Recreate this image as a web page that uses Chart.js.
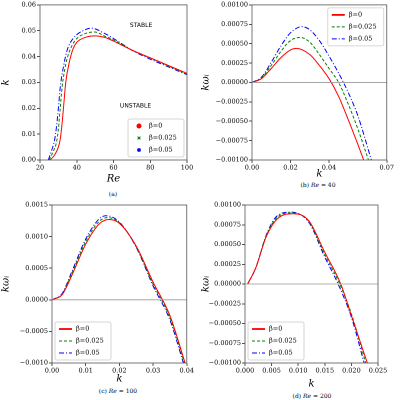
<!DOCTYPE html>
<html>
<head>
<script src="https://cdn.jsdelivr.net/npm/chart.js@4"></script>
<style>
  body { margin: 0; background: #fff; width: 400px; height: 400px; position: relative; font-family: "DejaVu Serif", serif; color: #000; }
  canvas { position: absolute; }
  .cap { position: absolute; font-size: 6px; color: #000; transform: translateX(-50%); white-space: nowrap; }
</style>
</head>
<body>
<canvas id="ca"></canvas><canvas id="cb"></canvas><canvas id="cc"></canvas><canvas id="cd"></canvas>
<div class="cap" style="left:113px;top:190px">(a)</div>
<div class="cap" style="left:318px;top:181px">(b) <i>Re</i> = 40</div>
<div class="cap" style="left:118px;top:387px">(c) <i>Re</i> = 100</div>
<div class="cap" style="left:312px;top:392px">(d) <i>Re</i> = 200</div>
<script>
const labels = ["β=0", "β=0.025", "β=0.05"];
const colors = ["#ff0000", "#008000", "#0000ff"];
const dashes = [[], [3, 2], [5, 2, 1, 2]];
const markers = ["circle", "crossRot", "star"];

// (a) neutral curves k vs Re
const aRe0 = [25.5, 28, 30, 31, 32, 33, 34, 36, 38, 40, 45, 50, 55, 60, 70, 80, 90, 100];
const aK0 = [0, 0.002, 0.005, 0.008, 0.014, 0.022, 0.03, 0.038, 0.043, 0.0455, 0.0475, 0.048, 0.0475, 0.046, 0.0425, 0.0395, 0.0365, 0.0335];
const aRe1 = [25, 27, 29, 30, 31, 32, 34, 36, 38, 40, 45, 50, 55, 60, 70, 80, 90, 100];
const aK1 = [0, 0.003, 0.007, 0.012, 0.02, 0.028, 0.037, 0.042, 0.045, 0.047, 0.049, 0.0495, 0.048, 0.0465, 0.0425, 0.0395, 0.0363, 0.0333];
const aRe2 = [24.5, 26, 28, 29, 30, 31, 33, 35, 38, 40, 45, 48, 55, 60, 70, 80, 90, 100];
const aK2 = [0, 0.003, 0.008, 0.013, 0.02, 0.028, 0.037, 0.043, 0.047, 0.0485, 0.0505, 0.051, 0.049, 0.047, 0.0425, 0.039, 0.036, 0.033];

// (b) Re = 40
const bK0 = [0, 0.005, 0.01, 0.015, 0.02, 0.023, 0.03, 0.035, 0.04, 0.045, 0.05, 0.055, 0.058];
const bW0 = [0, 0.00005, 0.00018, 0.00032, 0.00042, 0.00044, 0.00036, 0.00022, 0.00005, -0.00018, -0.00048, -0.0008, -0.001];
const bK1 = [0, 0.005, 0.01, 0.015, 0.02, 0.025, 0.03, 0.035, 0.04, 0.045, 0.05, 0.055, 0.0605];
const bW1 = [0, 0.00006, 0.00022, 0.0004, 0.00054, 0.00058, 0.00052, 0.00036, 0.00018, 0, -0.00028, -0.0006, -0.001];
const bK2 = [0, 0.005, 0.01, 0.015, 0.02, 0.026, 0.03, 0.035, 0.04, 0.045, 0.05, 0.055, 0.062];
const bW2 = [0, 0.00007, 0.00026, 0.00047, 0.00064, 0.00072, 0.00068, 0.00054, 0.00034, 0.00012, -0.00013, -0.00043, -0.001];

// (c) Re = 100
const cK0 = [0, 0.003, 0.006, 0.01, 0.014, 0.017, 0.02, 0.025, 0.03, 0.035, 0.0395];
const cW0 = [0, 0.00008, 0.0004, 0.00088, 0.0012, 0.00127, 0.00121, 0.00085, 0.00028, -0.00025, -0.001];
const cK1 = [0, 0.003, 0.006, 0.01, 0.014, 0.0165, 0.02, 0.025, 0.03, 0.035, 0.0393];
const cW1 = [0, 0.00009, 0.00043, 0.00092, 0.00124, 0.0013, 0.00122, 0.00084, 0.00025, -0.00028, -0.001];
const cK2 = [0, 0.003, 0.006, 0.01, 0.014, 0.016, 0.02, 0.025, 0.03, 0.035, 0.039];
const cW2 = [0, 0.0001, 0.00046, 0.00096, 0.00128, 0.00133, 0.00123, 0.00083, 0.00022, -0.00032, -0.001];

// (d) Re = 200
const dK0 = [0.0005, 0.002, 0.004, 0.006, 0.009, 0.012, 0.015, 0.018, 0.02, 0.023];
const dW0 = [0, 0.0002, 0.0006, 0.00082, 0.00089, 0.0008, 0.0004, 0, -0.0004, -0.001];
const dK1 = [0.0005, 0.002, 0.004, 0.006, 0.0088, 0.012, 0.015, 0.0178, 0.02, 0.0227];
const dW1 = [0, 0.0002, 0.00061, 0.00084, 0.0009, 0.00079, 0.00037, 0, -0.00038, -0.001];
const dK2 = [0.0005, 0.002, 0.004, 0.006, 0.0086, 0.012, 0.015, 0.0175, 0.02, 0.0224];
const dW2 = [0, 0.0002, 0.00062, 0.00086, 0.00091, 0.00078, 0.00034, 0, -0.00042, -0.001];

const pts = (xs, ys) => xs.map((x, i) => ({ x: x, y: ys[i] }));

function sets(series) {
    return series.map((s, i) => ({
        label: labels[i],
        data: pts(s[0], s[1]),
        borderColor: colors[i],
        backgroundColor: colors[i],
        borderWidth: 1,
        borderDash: dashes[i],
        cubicInterpolationMode: 'monotone',
        pointRadius: 0
    }));
}

// frame, zero line, in-plot legend, text notes
const decor = {
    id: 'decor',
    afterDraw(chart, args, o) {
        const c = chart.ctx, a = chart.chartArea;
        c.save();
        if (o.zero) {
            const y = chart.scales.y.getPixelForValue(0);
            c.strokeStyle = '#999'; c.lineWidth = 0.8;
            c.beginPath(); c.moveTo(a.left, y); c.lineTo(a.right, y); c.stroke();
        }
        c.strokeStyle = '#555'; c.lineWidth = 0.8;
        c.strokeRect(a.left, a.top, a.right - a.left, a.bottom - a.top);
        c.fillStyle = '#000';
        c.font = '6px "DejaVu Sans"';
        c.textAlign = 'center'; c.textBaseline = 'middle';
        (o.notes || []).forEach(n => {
            c.fillText(n[0], chart.scales.x.getPixelForValue(n[1]), chart.scales.y.getPixelForValue(n[2]));
        });
        // legend box
        const w = 56, h = 38;
        const lx = o.corner[0] === 'r' ? a.right - w - 3 : a.left + 3;
        const ly = o.corner[1] === 't' ? a.top + 3 : a.bottom - h - 3;
        c.fillStyle = '#fff'; c.strokeStyle = '#ccc'; c.lineWidth = 0.8;
        c.beginPath(); c.roundRect(lx, ly, w, h, 2); c.fill(); c.stroke();
        c.textAlign = 'left';
        c.font = '6.5px "DejaVu Serif"';
        labels.forEach((lab, i) => {
            const yy = ly + 7 + i * 12;
            c.strokeStyle = colors[i]; c.fillStyle = colors[i];
            if (o.markers) {
                c.lineWidth = 1;
                Chart.helpers.drawPoint(c, { pointStyle: markers[i], radius: 2, borderWidth: 1 }, lx + 11, yy);
            } else {
                c.lineWidth = i === 0 ? 1.8 : 1;
                c.setLineDash(dashes[i]);
                c.beginPath(); c.moveTo(lx + 4, yy); c.lineTo(lx + 17, yy); c.stroke();
                c.setLineDash([]);
            }
            c.fillStyle = '#000';
            c.fillText(lab, lx + 21, yy);
        });
        c.restore();
    }
};

function panel(id, g, series, xs, ys, xTitle, yTitle, opts) {
    const cv = document.getElementById(id);
    cv.style.left = g.L + 'px'; cv.style.top = g.T + 'px';
    cv.style.width = g.W + 'px'; cv.style.height = g.H + 'px';
    const tickFont = { family: 'DejaVu Serif', size: 6.5 };
    const titleFont = { family: 'DejaVu Serif', size: 10, style: 'italic', weight: 'normal' };
    return new Chart(cv, {
        type: 'line',
        data: { datasets: sets(series) },
        options: {
            responsive: false,
            devicePixelRatio: 2,
            animation: false,
            layout: { padding: { left: 0, top: g.y0 - g.T, right: g.L + g.W - g.x1, bottom: 0 } },
            scales: {
                x: {
                    type: 'linear', min: xs[0], max: xs[1],
                    ticks: { stepSize: xs[2], font: tickFont, color: '#000', maxRotation: 0, padding: 1,
                        callback: v => v.toFixed(xs[3]) },
                    grid: { display: true, color: 'transparent', tickColor: '#555', tickLength: 3 },
                    border: { display: false },
                    title: { display: true, text: xTitle, font: titleFont, color: '#000', padding: 0 },
                    afterFit: s => { s.height = g.T + g.H - g.y1; }
                },
                y: {
                    min: ys[0], max: ys[1],
                    ticks: { stepSize: ys[2], font: tickFont, color: '#000', padding: 1,
                        callback: v => (v < 0 ? '\u2212' : '') + Math.abs(v).toFixed(ys[3]) },
                    grid: { display: true, color: 'transparent', tickColor: '#555', tickLength: 3 },
                    border: { display: false },
                    title: { display: true, text: yTitle, font: titleFont, color: '#000', padding: 0 },
                    afterFit: s => { s.width = g.x0 - g.L; }
                }
            },
            plugins: { legend: { display: false }, tooltip: { enabled: false }, decor: opts }
        },
        plugins: [decor]
    });
}

panel('ca', { L: 0, T: 0, W: 195, H: 185, x0: 40, x1: 187, y0: 3, y1: 160 },
    [[aRe0, aK0], [aRe1, aK1], [aRe2, aK2]], [20, 100, 20, 0], [0, 0.06, 0.01, 2], 'Re', 'k',
    { corner: 'rb', markers: true, notes: [['STABLE', 75, 0.052], ['UNSTABLE', 72, 0.021]] });
panel('cb', { L: 200, T: 0, W: 195, H: 180, x0: 252, x1: 388, y0: 3, y1: 160 },
    [[bK0, bW0], [bK1, bW1], [bK2, bW2]], [0, 0.07, 0.02, 2], [-0.001, 0.001, 0.00025, 5], 'k', 'kωᵢ',
    { corner: 'rt', zero: true });
panel('cc', { L: 0, T: 200, W: 195, H: 185, x0: 52, x1: 187, y0: 205, y1: 363 },
    [[cK0, cW0], [cK1, cW1], [cK2, cW2]], [0, 0.04, 0.01, 2], [-0.001, 0.0015, 0.0005, 4], 'k', 'kωᵢ',
    { corner: 'lb', zero: true });
panel('cd', { L: 200, T: 200, W: 195, H: 190, x0: 245, x1: 378, y0: 205, y1: 363 },
    [[dK0, dW0], [dK1, dW1], [dK2, dW2]], [0, 0.025, 0.005, 3], [-0.001, 0.001, 0.00025, 5], 'k', 'kωᵢ',
    { corner: 'lb', zero: true });
</script>
</body>
</html>
